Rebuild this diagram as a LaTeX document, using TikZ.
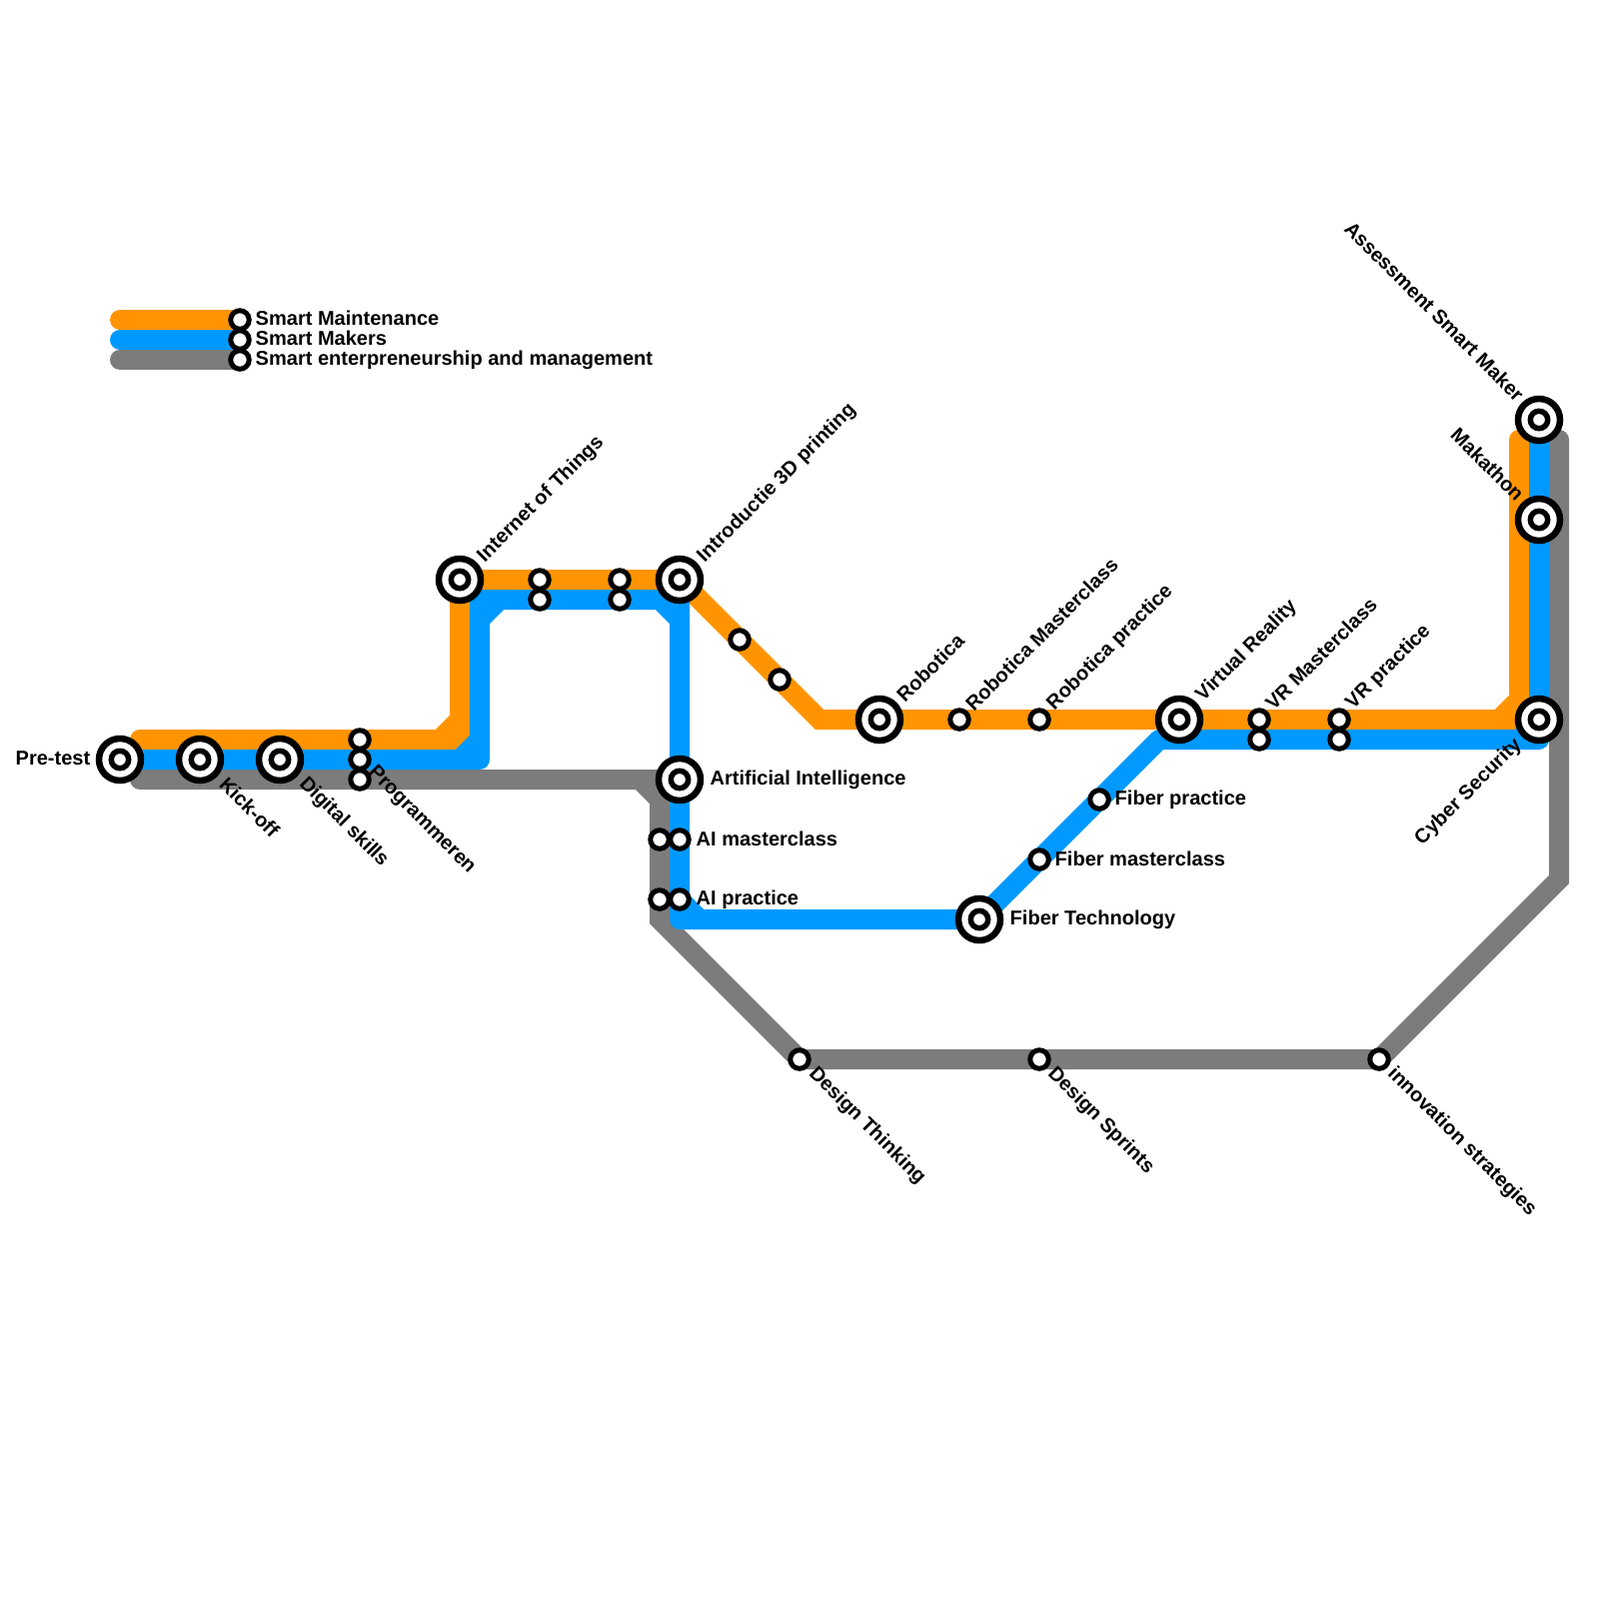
\documentclass[tikz,border=0pt]{standalone}
\usepackage{fontspec}
\setmainfont{Liberation Sans}
\usetikzlibrary{backgrounds}
\definecolor{MaintenanceOrange}{RGB}{255,148,0}
\definecolor{MakersBlue}{RGB}{0,153,255}
\definecolor{ManagementGrey}{RGB}{124,124,124}
\tikzset{
  bigstop/.style={circle,draw=black,fill=white,line width=0.65mm,minimum size=4.2mm,inner sep=0pt,
    path picture={\draw[line width=0.55mm,fill=white] (path picture bounding box.center) circle (0.87mm);}},
  stop/.style={circle,draw=black,fill=white,line width=0.5mm,minimum size=1.85mm,inner sep=0pt},
  metroline/.style={line width=2mm,line cap=round,line join=miter},
  stub/.style={line width=2mm,line cap=butt},
  tag/.style={font=\bfseries\fontsize{5.7pt}{6pt}\selectfont,inner sep=0pt,text=black},
  tagright/.style={tag,anchor=west},
  tagleft/.style={tag,anchor=east},
  tagup/.style={tag,anchor=west,rotate=45},
  tagdown/.style={tag,anchor=west,rotate=-45},
  tagupleft/.style={tag,anchor=east,rotate=-45},
  tagdownleft/.style={tag,anchor=east,rotate=45}
}
\begin{document}
\begin{tikzpicture}[x=0.1mm,y=-0.1mm]
  \useasboundingbox (0,0) rectangle (1600,1600);
  % legend
  \node[stop] (legendorange) at (240,320) {};
  \node[stop] (legendblue) at (240,340) {};
  \node[stop] (legendgrey) at (240,360) {};
  \node[tagright] (legendorangetext) at (255,318) {Smart Maintenance};
  \node[tagright] (legendbluetext) at (255,338) {Smart Makers};
  \node[tagright] (legendgreytext) at (255,360) {Smart enterpreneurship and management};
  \coordinate (legendorangestart) at (120,320);
  \coordinate (legendbluestart) at (120,340);
  \coordinate (legendgreystart) at (120,360);
  % stations
  \node[bigstop] (pretest) at (120,760) {};
  \node[bigstop] (kickoff) at (200,760) {};
  \node[bigstop] (digital) at (280,760) {};
  \node[stop] (progorange) at (360,740) {};
  \node[stop] (progblue) at (360,760) {};
  \node[stop] (proggrey) at (360,780) {};
  \node[bigstop] (iot) at (460,580) {};
  \node[stop] (topa) at (540,580) {};
  \node[stop] (topb) at (540,600) {};
  \node[stop] (topc) at (620,580) {};
  \node[stop] (topd) at (620,600) {};
  \node[bigstop] (printing) at (680,580) {};
  \node[stop] (diaga) at (740,640) {};
  \node[stop] (diagb) at (780,680) {};
  \node[bigstop] (robotica) at (880,720) {};
  \node[stop] (roboclass) at (960,720) {};
  \node[stop] (robopractice) at (1040,720) {};
  \node[bigstop] (vr) at (1180,720) {};
  \node[stop] (vrclass) at (1260,720) {};
  \node[stop] (vrclassblue) at (1260,740) {};
  \node[stop] (vrpractice) at (1340,720) {};
  \node[stop] (vrpracticeblue) at (1340,740) {};
  \node[bigstop] (cyber) at (1540,720) {};
  \node[bigstop] (makathon) at (1540,520) {};
  \node[bigstop] (assessment) at (1540,420) {};
  \node[bigstop] (ai) at (680,780) {};
  \node[stop] (aiclassgrey) at (660,840) {};
  \node[stop] (aiclass) at (680,840) {};
  \node[stop] (aipracticegrey) at (660,900) {};
  \node[stop] (aipractice) at (680,900) {};
  \node[bigstop] (fiber) at (980,920) {};
  \node[stop] (fiberclass) at (1040,860) {};
  \node[stop] (fiberpractice) at (1100,800) {};
  \node[stop] (thinking) at (800,1060) {};
  \node[stop] (sprints) at (1040,1060) {};
  \node[stop] (innovation) at (1380,1060) {};
  % labels
  \node[tagleft] (pretesttext) at (91,759) {Pre-test};
  \node[tagdown] (kickofftext) at (223,781) {Kick-off};
  \node[tagdown] (digitaltext) at (302,781) {Digital skills};
  \node[tagdown] (progtext) at (371,770) {Programmeren};
  \node[tagup] (iottext) at (481,560) {Internet of Things};
  \node[tagup] (printingtext) at (701,560) {Introductie 3D printing};
  \node[tagup] (roboticatext) at (900,699) {Robotica};
  \node[tagup] (roboclasstext) at (969,708) {Robotica Masterclass};
  \node[tagup] (robopracticetext) at (1051,708) {Robotica practice};
  \node[tagup] (vrtext) at (1200,699) {Virtual Reality};
  \node[tagup] (vrclasstext) at (1269,707) {VR Masterclass};
  \node[tagup] (vrpracticetext) at (1350,707) {VR practice};
  \node[tagupleft] (assessmenttext) at (1522,398) {Assessment Smart Maker};
  \node[tagupleft] (makathontext) at (1522,498) {Makathon};
  \node[tagdownleft] (cybertext) at (1520,742) {Cyber Security};
  \node[tagright] (aitext) at (710,780) {Artificial Intelligence};
  \node[tagright] (aiclasstext) at (696,839) {AI masterclass};
  \node[tagright] (aipracticetext) at (696,900) {AI practice};
  \node[tagright] (fibertext) at (1010,920) {Fiber Technology};
  \node[tagright] (fiberclasstext) at (1055,859) {Fiber masterclass};
  \node[tagright] (fiberpracticetext) at (1115,800) {Fiber practice};
  \node[tagdown] (thinkingtext) at (812,1071) {Design Thinking};
  \node[tagdown] (sprintstext) at (1051,1071) {Design Sprints};
  \node[tagdown] (innovationtext) at (1391,1071) {innovation strategies};
  % lines, under the stations
  \begin{pgfonlayer}{background}
    \draw[metroline,ManagementGrey] (legendgreystart)--(legendgrey.center);
    \draw[metroline,MakersBlue] (legendbluestart)--(legendblue.center);
    \draw[metroline,MaintenanceOrange] (legendorangestart)--(legendorange.center);
    \draw[metroline,ManagementGrey] (140,780)--(660,780)--(660,920)--(thinking.center)
      --(innovation.center)--(1560,880)--(1560,440);
    \draw[stub,ManagementGrey] (640,780)--(660,800);
    \draw[metroline,MaintenanceOrange] (140,740)--(460,740)--(iot.center)--(printing.center)
      --(820,720)--(1520,720)--(1520,440);
    \draw[stub,MaintenanceOrange] (440,740)--(460,720);
    \draw[stub,MaintenanceOrange] (1500,720)--(1520,700);
    \draw[metroline,MakersBlue,line join=round] (140,760)--(480,760)--(480,600)--(680,600)--(680,920)
      --(fiber.center)--(1160,740)--(1540,740)--(assessment.center);
    \draw[stub,MakersBlue] (460,760)--(480,740);
    \draw[stub,MakersBlue] (480,620)--(500,600);
    \draw[stub,MakersBlue] (660,600)--(680,620);
    \draw[stub,MakersBlue] (680,900)--(700,920);
    \draw[stub,MakersBlue] (1520,740)--(1540,720);
  \end{pgfonlayer}
\end{tikzpicture}
\end{document}
